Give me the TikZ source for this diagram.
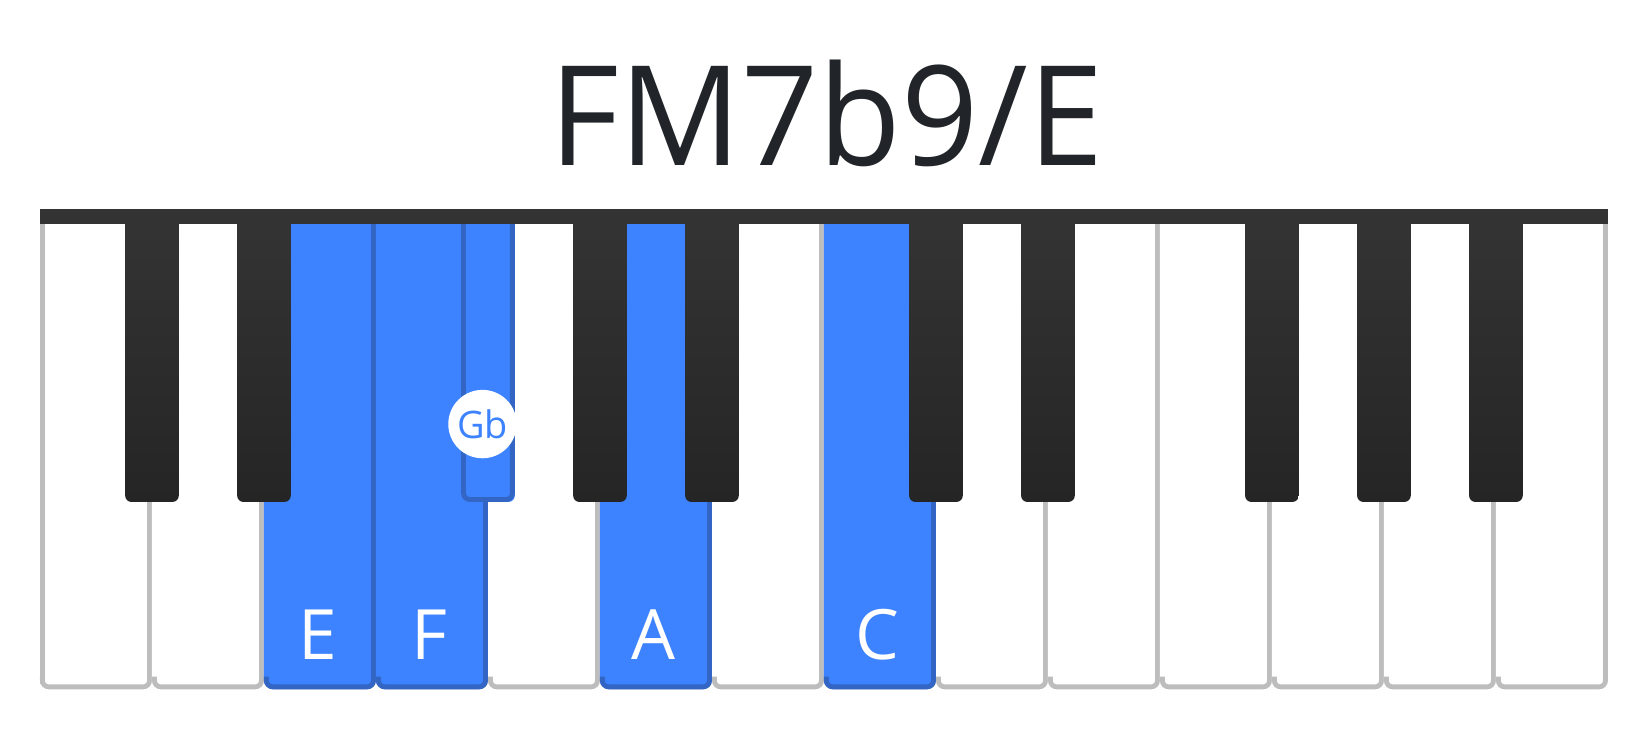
\documentclass[tikz,border=0pt]{standalone}
\usepackage{fontspec}
\setmainfont{Open Sans}
\definecolor{keyblue}{HTML}{3D82FE}
\definecolor{keyblueedge}{HTML}{3366C4}
\definecolor{keygray}{HTML}{BDBDBD}
\definecolor{barcol}{HTML}{333333}
\definecolor{blacktop}{HTML}{343434}
\definecolor{blackbot}{HTML}{252525}
\definecolor{titlecol}{HTML}{212529}
\tikzset{
  whiteedge/.style={draw=keygray, line width=4.6pt, rounded corners=6pt},
  blueedge/.style={draw=keyblueedge, line width=4.6pt, rounded corners=6pt},
  notelabel/.style={text=white, font=\fontsize{66}{70}\selectfont, anchor=base},
  titlelabel/.style={text=titlecol, font=\fontsize{132}{140}\selectfont, anchor=base},
}
\begin{document}
\begin{tikzpicture}[x=1pt,y=-1pt]
\useasboundingbox (0,0) rectangle (1568,703);
\def\kw{106.4286}
% white keys
\foreach \i in {0,...,13}{
  \pgfmathsetmacro\L{38+\i*\kw}
  \pgfmathsetmacro\R{38+(\i+1)*\kw}
  \fill[white, rounded corners=6pt] (\L,200) rectangle (\R-2,653);
  \draw[whiteedge] (\R-2.3,205) -- (\R-2.3,652.7) -- (\L+2.3,652.7) -- (\L+2.3,643);
}
\draw[whiteedge] (40.3,205) -- (40.3,650);
% highlighted white keys
\foreach \i in {2,3,5,7}{
  \pgfmathsetmacro\L{38+\i*\kw}
  \pgfmathsetmacro\R{38+(\i+1)*\kw}
  \fill[keyblue, rounded corners=6pt] (\L,200) rectangle (\R-2,653);
  \draw[blueedge] (\R-2.3,205) -- (\R-2.3,652.7) -- (\L+2.3,652.7) -- (\L+2.3,643);
}
% black keys
\foreach \k in {1,2,5,6,8,9,11,12,13}{
  \pgfmathsetmacro\C{38+\k*\kw}
  \shade[top color=blacktop, bottom color=blackbot, rounded corners=6pt]
    (\C-25.5,200) rectangle (\C+25.5,477);
}
% highlighted black key (Gb)
\pgfmathsetmacro\C{38+4*\kw}
\fill[keyblue, rounded corners=6pt] (\C-25.5,200) rectangle (\C+25.5,477);
\draw[blueedge] (\C-23.2,205) -- (\C-23.2,474.7) -- (\C+23.2,474.7) -- (\C+23.2,205);
% top bar
\fill[barcol] (38,199) rectangle (1528,213);
% title
\node[titlelabel] (title) at (785.5,157) {\scalebox{0.973}[1]{FM7b9/E}};
% labels
\node[notelabel] (lE) at (302,627) {E};
\node[notelabel] (lF) at (408.5,627) {F};
\node[notelabel] (lA) at (621.4,627) {A};
\node[notelabel] (lC) at (834,627) {C};
\node[circle, fill=white, minimum size=65pt, inner sep=0pt] (gbdot) at (458.5,403) {};
\node[text=keyblue, font=\fontsize{36}{38}\selectfont] (gb) at (gbdot.center) {Gb};
\end{tikzpicture}
\end{document}
